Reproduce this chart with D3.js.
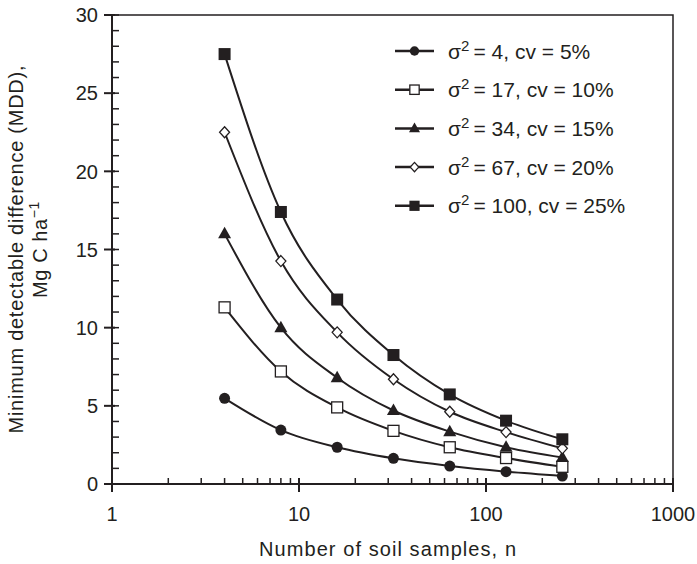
<!DOCTYPE html>
<html>
<head>
<meta charset="utf-8">
<script src="https://cdn.jsdelivr.net/npm/d3@7"></script>
<style>
  body { margin: 0; background: #fff; }
  svg { display: block; font-family: "Liberation Sans", Arial, sans-serif; }
</style>
</head>
<body>
<div id="vis"></div>
<script>
// sample sizes (x) and MDD values per series
const samples = [4, 8, 16, 32, 64, 128, 256];
const variances = [4, 17, 34, 67, 100];
const cvs = [5, 10, 15, 20, 25];
const markers = ['circle', 'openSquare', 'triangle', 'openDiamond', 'square'];
const mdd4 = [5.48, 3.45, 2.35, 1.64, 1.15, 0.79, 0.51];
const mdd17 = [11.3, 7.2, 4.9, 3.4, 2.35, 1.66, 1.1];
const mdd34 = [16.0, 10.0, 6.8, 4.7, 3.35, 2.35, 1.7];
const mdd67 = [22.5, 14.26, 9.7, 6.7, 4.62, 3.32, 2.28];
const mdd100 = [27.5, 17.4, 11.8, 8.25, 5.73, 4.05, 2.86];
const xTicks = [1, 10, 100, 1000];
const yTicks = [0, 5, 10, 15, 20, 25, 30];

const width = 697, height = 564;
const margin = { top: 15, right: 24, bottom: 80, left: 112 };
const ink = '#231f20';

const seriesValues = [mdd4, mdd17, mdd34, mdd67, mdd100];
const series = variances.map(function (v, i) {
  return {
    variance: v,
    cv: cvs[i],
    marker: markers[i],
    points: samples.map(function (n, j) { return { n: n, mdd: seriesValues[i][j] }; })
  };
});

const svg = d3.select('#vis').append('svg')
  .attr('width', width)
  .attr('height', height);

const x = d3.scaleLog()
  .domain([1, 1000])
  .range([margin.left, width - margin.right]);

const y = d3.scaleLinear()
  .domain([0, 30])
  .range([height - margin.bottom, margin.top]);

const x0 = x.range()[0], x1 = x.range()[1];
const y0 = y.range()[0], y1 = y.range()[1];

// frame: top and right border
svg.append('path')
  .attr('d', 'M' + x0 + ',' + y1 + 'H' + x1 + 'V' + y0)
  .attr('fill', 'none')
  .attr('stroke', ink)
  .attr('stroke-width', 1.5);

// y axis: major ticks cross the axis, minor ticks point inward
const yAxis = svg.append('g');
yAxis.append('line')
  .attr('x1', x0).attr('x2', x0)
  .attr('y1', y0).attr('y2', y1)
  .attr('stroke', ink).attr('stroke-width', 2);
yAxis.selectAll('.minor')
  .data(d3.range(0, 31))
  .join('line')
  .attr('x1', x0).attr('x2', x0 + 7)
  .attr('y1', function (d) { return y(d); })
  .attr('y2', function (d) { return y(d); })
  .attr('stroke', ink).attr('stroke-width', 1.5);
yAxis.selectAll('.major')
  .data(yTicks)
  .join('line')
  .attr('x1', x0 - 8).attr('x2', x0 + 3)
  .attr('y1', function (d) { return y(d); })
  .attr('y2', function (d) { return y(d); })
  .attr('stroke', ink).attr('stroke-width', 2);
yAxis.selectAll('text')
  .data(yTicks)
  .join('text')
  .attr('x', x0 - 14)
  .attr('y', function (d) { return y(d); })
  .attr('dy', '0.36em')
  .attr('text-anchor', 'end')
  .attr('font-size', 20)
  .attr('fill', ink)
  .text(function (d) { return d; });

// x axis (log): major ticks cross the axis, minor ticks point inward
const minorX = [];
[1, 10, 100].forEach(function (dec) {
  d3.range(2, 10).forEach(function (k) { minorX.push(dec * k); });
});
const xAxis = svg.append('g');
xAxis.append('line')
  .attr('x1', x0).attr('x2', x1)
  .attr('y1', y0).attr('y2', y0)
  .attr('stroke', ink).attr('stroke-width', 2);
xAxis.selectAll('.minor')
  .data(minorX)
  .join('line')
  .attr('x1', function (d) { return x(d); })
  .attr('x2', function (d) { return x(d); })
  .attr('y1', y0).attr('y2', y0 - 6)
  .attr('stroke', ink).attr('stroke-width', 1.5);
xAxis.selectAll('.major')
  .data(xTicks)
  .join('line')
  .attr('x1', function (d) { return x(d); })
  .attr('x2', function (d) { return x(d); })
  .attr('y1', y0 - 6).attr('y2', y0 + 8)
  .attr('stroke', ink).attr('stroke-width', 2);
xAxis.selectAll('text')
  .data(xTicks)
  .join('text')
  .attr('x', function (d) { return x(d); })
  .attr('y', y0 + 37)
  .attr('text-anchor', 'middle')
  .attr('font-size', 20)
  .attr('fill', ink)
  .text(function (d) { return d; });

// axis titles
svg.append('text')
  .attr('x', 259)
  .attr('y', 556)
  .attr('font-size', 20)
  .attr('textLength', 257)
  .attr('lengthAdjust', 'spacing')
  .attr('fill', ink)
  .text('Number of soil samples, n');

const yMid = (y0 + y1) / 2;
svg.append('text')
  .attr('transform', 'translate(23,' + yMid + ') rotate(-90)')
  .attr('x', -184)
  .attr('font-size', 20)
  .attr('textLength', 368)
  .attr('lengthAdjust', 'spacing')
  .attr('fill', ink)
  .text('Minimum detectable difference (MDD),');
const yTitle2 = svg.append('text')
  .attr('transform', 'translate(47,' + yMid + ') rotate(-90)')
  .attr('text-anchor', 'middle')
  .attr('font-size', 20)
  .attr('letter-spacing', 0.6)
  .attr('fill', ink);
yTitle2.append('tspan').text('Mg C ha');
yTitle2.append('tspan')
  .attr('dy', -8)
  .attr('font-size', 14)
  .text('\u22121');

// marker drawing, s scales the symbol (legend symbols are a bit smaller)
function drawMarker(g, type, s) {
  if (type === 'circle') {
    g.append('circle').attr('r', 5.5 * s).attr('fill', ink);
  } else if (type === 'openSquare') {
    g.append('rect').attr('x', -5.5 * s).attr('y', -5.5 * s)
      .attr('width', 11 * s).attr('height', 11 * s)
      .attr('fill', '#fff').attr('stroke', ink).attr('stroke-width', 1.3);
  } else if (type === 'square') {
    g.append('rect').attr('x', -6 * s).attr('y', -6 * s)
      .attr('width', 12 * s).attr('height', 12 * s)
      .attr('fill', ink);
  } else if (type === 'triangle') {
    g.append('path')
      .attr('d', 'M0,' + (-7 * s) + 'L' + (6.5 * s) + ',' + (4.5 * s) + 'L' + (-6.5 * s) + ',' + (4.5 * s) + 'Z')
      .attr('fill', ink);
  } else if (type === 'openDiamond') {
    g.append('path')
      .attr('d', 'M0,' + (-5.5 * s) + 'L' + (5 * s) + ',0L0,' + (5.5 * s) + 'L' + (-5 * s) + ',0Z')
      .attr('fill', '#fff').attr('stroke', ink).attr('stroke-width', 1.3);
  }
}

const line = d3.line()
  .x(function (d) { return x(d.n); })
  .y(function (d) { return y(d.mdd); })
  .curve(d3.curveMonotoneX);

const groups = svg.selectAll('.series')
  .data(series)
  .join('g')
  .attr('class', 'series');

groups.append('path')
  .attr('d', function (d) { return line(d.points); })
  .attr('fill', 'none')
  .attr('stroke', ink)
  .attr('stroke-width', 2);

groups.each(function (s) {
  d3.select(this).selectAll('.pt')
    .data(s.points)
    .join('g')
    .attr('class', 'pt')
    .attr('transform', function (d) { return 'translate(' + x(d.n) + ',' + y(d.mdd) + ')'; })
    .each(function () { drawMarker(d3.select(this), s.marker, 1); });
});

// legend
const legend = svg.append('g');
const items = legend.selectAll('g')
  .data(series)
  .join('g')
  .attr('transform', function (d, i) { return 'translate(395,' + (51 + i * 38.7) + ')'; });
items.append('line')
  .attr('x1', 0).attr('x2', 39)
  .attr('stroke', ink).attr('stroke-width', 2.5);
items.append('g')
  .attr('transform', 'translate(19.5,0)')
  .each(function (d) { drawMarker(d3.select(this), d.marker, 0.85); });
const labels = items.append('text')
  .attr('x', 53)
  .attr('dy', '0.36em')
  .attr('font-size', 21)
  .attr('fill', ink);
labels.append('tspan').text('\u03c3');
labels.append('tspan').attr('dy', -8).attr('font-size', 15).text('2');
labels.append('tspan').attr('dy', 8)
  .text(function (d) { return '\u2009= ' + d.variance + ', cv = ' + d.cv + '%'; });
</script>
</body>
</html>
